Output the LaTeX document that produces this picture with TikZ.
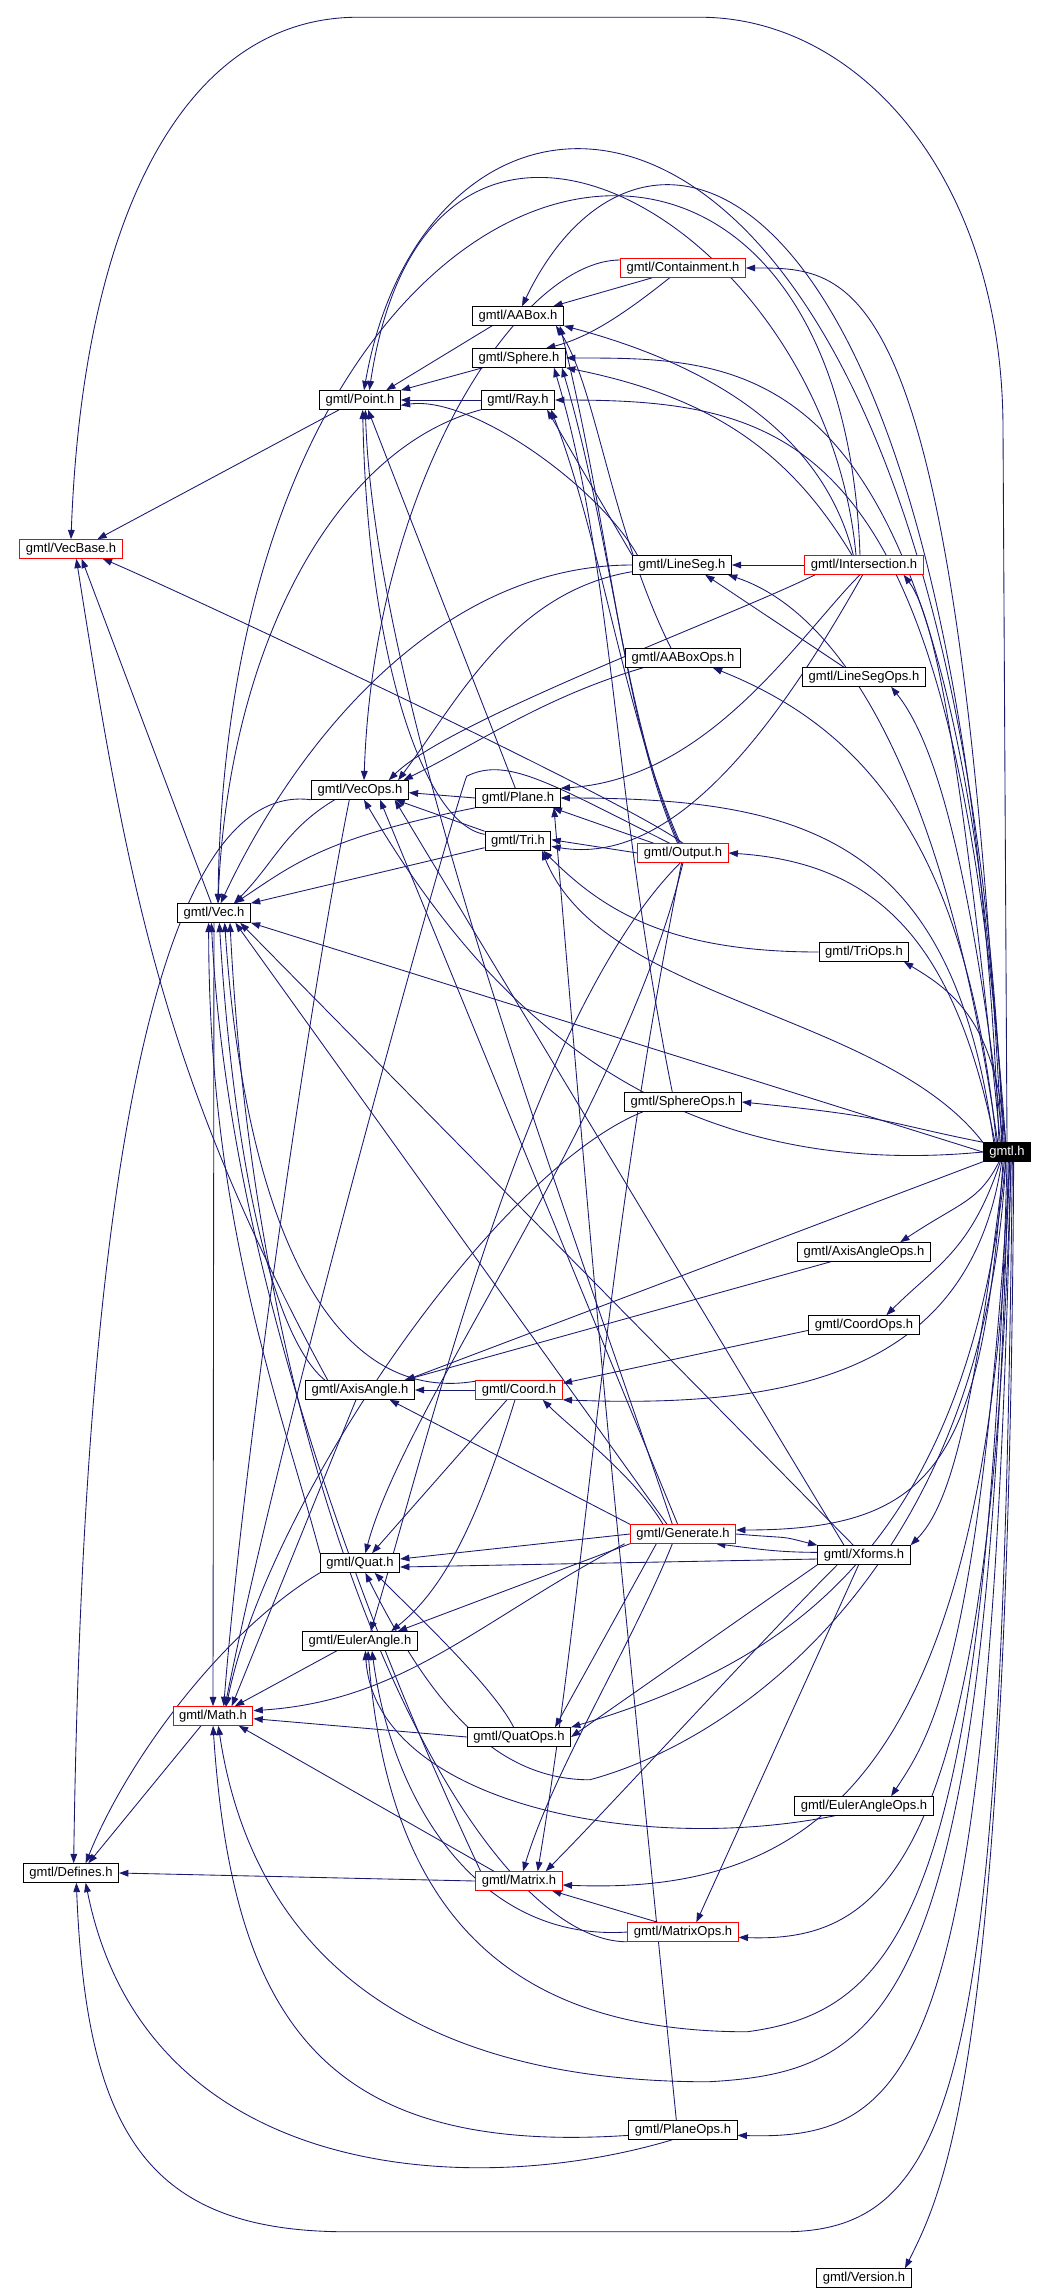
\documentclass[tikz,border=0pt]{standalone}
\usepackage{fontspec}
\setmainfont{Liberation Sans}
\usepackage{xcolor}
\usepackage{tikz}
\usetikzlibrary{arrows.meta,backgrounds}
\definecolor{depblue}{HTML}{191970}
\definecolor{truncred}{HTML}{FF0000}

\begin{document}
\begin{tikzpicture}[x=0.75pt,y=0.75pt,>={Triangle[length=7pt,width=5pt]}]
\tikzset{
file/.style={draw=black,line width=0.75pt,fill=white,font=\fontsize{9.75}{11}\selectfont,inner xsep=4.5pt,inner ysep=0pt,minimum height=13.9pt,text height=7.2pt,text depth=2pt},
trunc/.style={file,draw=truncred},
root/.style={file,fill=black,text=white},
dep/.style={->,color=depblue,line width=0.65pt}}
\useasboundingbox (0,0) rectangle (1046,-2294);

\node[trunc] (vecbase) at (71,-549) {gmtl/VecBase.h};
\node[file] (defines) at (71,-1873) {gmtl/Defines.h};
\node[file] (vec) at (214,-913) {gmtl/Vec.h};
\node[trunc] (math) at (213,-1716) {gmtl/Math.h};
\node[file] (point) at (360,-400) {gmtl/Point.h};
\node[file] (vecops) at (360,-790) {gmtl/VecOps.h};
\node[file] (axisangle) at (360,-1390) {gmtl/AxisAngle.h};
\node[file] (quat) at (360,-1563) {gmtl/Quat.h};
\node[file] (euler) at (360,-1641) {gmtl/EulerAngle.h};
\node[file] (aabox) at (518,-316) {gmtl/AABox.h};
\node[file] (sphere) at (519,-358) {gmtl/Sphere.h};
\node[file] (ray) at (518,-400) {gmtl/Ray.h};
\node[file] (plane) at (518,-798) {gmtl/Plane.h};
\node[file] (tri) at (518,-841) {gmtl/Tri.h};
\node[trunc] (coord) at (519,-1390) {gmtl/Coord.h};
\node[file] (quatops) at (519,-1737) {gmtl/QuatOps.h};
\node[trunc] (matrix) at (519,-1881) {gmtl/Matrix.h};
\node[trunc] (contain) at (683,-268) {gmtl/Containment.h};
\node[file] (lineseg) at (682,-565) {gmtl/LineSeg.h};
\node[file] (aaboxops) at (683,-658) {gmtl/AABoxOps.h};
\node[trunc] (output) at (683,-853) {gmtl/Output.h};
\node[file] (sphereops) at (683,-1102) {gmtl/SphereOps.h};
\node[trunc] (generate) at (683,-1534) {gmtl/Generate.h};
\node[trunc] (matrixops) at (683,-1932) {gmtl/MatrixOps.h};
\node[file] (planeops) at (683,-2130) {gmtl/PlaneOps.h};
\node[trunc] (isect) at (864,-565) {gmtl/Intersection.h};
\node[file] (linesegops) at (864,-677) {gmtl/LineSegOps.h};
\node[file] (triops) at (864,-952) {gmtl/TriOps.h};
\node[file] (axisangleops) at (864,-1252) {gmtl/AxisAngleOps.h};
\node[file] (coordops) at (864,-1325) {gmtl/CoordOps.h};
\node[file] (xforms) at (864,-1555) {gmtl/Xforms.h};
\node[file] (eulerops) at (864,-1806) {gmtl/EulerAngleOps.h};
\node[file] (version) at (864,-2278) {gmtl/Version.h};
\node[root] (gmtl) at (1007,-1152) {gmtl.h};

\begin{scope}[on background layer]
% gmtl.h pulls in every header; its edges run up and down the right margin
\draw[dep] (gmtl.north) -- ++(-4,713) .. controls +(0,250) and +(160,0) .. ++(-303,412) -- ++(-342,0) .. controls +(-170,0) and +(12,330) .. (vecbase.north);
\draw[dep] ([xshift=-3pt]gmtl.north) .. controls +(-45,1143) and +(70,400) .. ([xshift=3pt]point.north);
\draw[dep] ([xshift=-4pt]gmtl.north) .. controls +(-45,875) and +(110,0) .. (contain.east);
\draw[dep] ([xshift=-6pt]gmtl.north) .. controls +(-40,1000) and +(120,250) .. ([xshift=3pt]aabox.north);
\draw[dep] ([xshift=-2pt]gmtl.north) .. controls +(-45,785) and +(200,0) .. (sphere.east);
\draw[dep] ([xshift=-1pt]gmtl.north) .. controls +(-50,700) and +(250,0) .. (ray.east);
\draw[dep] ([xshift=-5pt]gmtl.north) .. controls +(-40,400) and +(30,-40) .. ([xshift=-15pt]isect.south east);
\draw[dep] ([xshift=-7pt]gmtl.north) .. controls +(-50,350) and +(120,-40) .. ([xshift=-3pt]lineseg.south east);
\draw[dep] ([xshift=-3pt]gmtl.north) .. controls +(-35,300) and +(40,-50) .. ([xshift=-26pt]linesegops.south east);
\draw[dep] ([xshift=-8pt]gmtl.north) .. controls +(-30,300) and +(150,-60) .. ([xshift=-21pt]aaboxops.south east);
\draw[dep] ([xshift=-9pt]gmtl.north) .. controls +(-40,200) and +(150,-10) .. (output.east);
\draw[dep] ([xshift=-10pt]gmtl.north) .. controls +(-40,300) and +(250,0) .. (plane.east);
\draw[dep] (gmtl.north west) .. controls +(-100,130) and +(60,-150) .. ([xshift=18pt]tri.south);
\draw[dep] (gmtl.west) -- (vec.south east);
\draw[dep] (gmtl.west) .. controls +(-333,-32) and +(113,-192) .. ([xshift=3pt]vecops.south);
\draw[dep] ([xshift=-1pt]gmtl.north) .. controls +(-10,120) and +(50,-30) .. ([xshift=-4pt]triops.south east);
\draw[dep] (gmtl.north west) .. controls +(-100,20) and +(150,-15) .. (sphereops.east);
\draw[dep] ([xshift=-6pt]gmtl.south) .. controls +(-20,-40) and +(60,40) .. ([xshift=-23pt]axisangleops.north east);
\draw[dep] ([xshift=-5pt]gmtl.south) .. controls +(-30,-90) and +(50,50) .. ([xshift=-25pt]coordops.north east);
\draw[dep] ([xshift=-4pt]gmtl.south) .. controls +(-30,-200) and +(250,-10) .. (coord.south east);
\draw[dep] ([xshift=-3pt]gmtl.south) .. controls +(-20,-300) and +(200,0) .. ([yshift=3pt]generate.east);
\draw[dep] ([xshift=-2pt]gmtl.south) .. controls +(-30,-250) and +(40,40) .. (xforms.north east);
\draw[dep] (gmtl.south west) -- ([xshift=-7pt]axisangle.north east);
\draw[dep] ([xshift=-1pt]gmtl.south) .. controls +(-20,-400) and +(150,40) .. ++(-416,-618) .. controls +(-100,0) and +(60,-120) .. ([xshift=4pt]quat.south);
\draw[dep] (gmtl.south) .. controls +(-20,-750) and +(150,20) .. ++(-260,-870) .. controls +(-250,0) and +(20,-250) .. ([xshift=6pt]euler.south);
\draw[dep] ([xshift=1pt]gmtl.south) .. controls +(-20,-850) and +(180,10) .. ++(-300,-920) .. controls +(-330,0) and +(30,-200) .. ([xshift=4pt]math.south);
\draw[dep] ([xshift=-1pt]gmtl.south) .. controls +(-40,-400) and +(200,60) .. (quatops.north east);
\draw[dep] ([xshift=2pt]gmtl.south) .. controls +(-30,-500) and +(40,60) .. ([xshift=-32pt]eulerops.north east);
\draw[dep] ([xshift=2pt]gmtl.south) .. controls +(-20,-620) and +(250,-10) .. ([yshift=-3pt]matrix.east);
\draw[dep] ([xshift=3pt]gmtl.south) .. controls +(-20,-700) and +(150,-5) .. ([yshift=-4pt]matrixops.east);
\draw[dep] ([xshift=3pt]gmtl.south) .. controls +(-20,-900) and +(180,-5) .. ([yshift=-4pt]planeops.east);
\draw[dep] ([xshift=4pt]gmtl.south) .. controls +(-10,-900) and +(180,0) .. ++(-229,-1070) -- ++(-436,0) .. controls +(-200,0) and +(10,-250) .. ([xshift=4pt]defines.south);
\draw[dep] ([xshift=5pt]gmtl.south) .. controls +(-5,-900) and +(40,80) .. ([xshift=-5pt]version.north east);

\draw[dep] ([xshift=15pt]point.south west) -- ([xshift=-19pt]vecbase.north east);
\draw[dep] (output.north) .. controls +(-60,45) and +(60,-25) .. ([xshift=-15pt]vecbase.south east);
\draw[dep] ([xshift=-2pt]vec.north) -- ([xshift=8pt]vecbase.south);
\draw[dep] ([xshift=17pt]axisangle.north west) .. controls +(-165,304) and +(52,-330) .. ([xshift=4pt]vecbase.south);
\draw[dep] ([xshift=15pt]aabox.south west) -- ([xshift=-11pt]point.north east);
\draw[dep] ([xshift=8pt]sphere.south west) -- (point.north east);
\draw[dep] (ray) -- (point);
\draw[dep] ([xshift=4pt]lineseg.north west) .. controls +(-40,70) and +(70,10) .. ([yshift=-4pt]point.east);
\draw[dep] ([xshift=-6pt]isect.north) .. controls +(-30,330) and +(60,400) .. ([xshift=7pt]point.north);
\draw[dep] ([xshift=-3pt]isect.north) .. controls +(-20,580) and +(10,800) .. ([xshift=3pt]vec.north);
\draw[dep] ([xshift=-8pt]isect.north) .. controls +(-30,120) and +(150,-40) .. (aabox.south east);
\draw[dep] ([xshift=-9pt]isect.north) .. controls +(-60,100) and +(150,-30) .. (sphere.south east);
\draw[dep] (isect) -- (lineseg);
\draw[dep] ([xshift=-3pt]isect.south) .. controls +(-60,-60) and +(150,10) .. (plane.north east);
\draw[dep] ([xshift=-1pt]isect.south) .. controls +(-90,-160) and +(120,-20) .. ([yshift=-4pt]tri.east);
\draw[dep] ([xshift=8pt]isect.south west) .. controls +(-80,-40) and +(60,60) .. ([xshift=-15pt]vecops.north east);
\draw[dep] (lineseg.north west) -- ([xshift=-6pt]ray.south east);
\draw[dep] (lineseg.west) .. controls +(-200,0) and +(70,150) .. ([xshift=5pt]vec.north);
\draw[dep] ([yshift=-5pt]lineseg.west) .. controls +(-120,-20) and +(60,80) .. ([xshift=-8pt]vecops.north east);
\draw[dep] ([xshift=-15pt]linesegops.north) -- ([xshift=-20pt]lineseg.south east);
\draw[dep] ([xshift=-9pt]aaboxops.north) .. controls +(-60,120) and +(40,-60) .. ([xshift=-6pt]aabox.south east);
\draw[dep] ([xshift=-30pt]aaboxops.south) .. controls +(-100,-30) and +(80,40) .. ([xshift=-4pt]vecops.north east);
\draw[dep] ([xshift=-4pt]output.north) .. controls +(-55,124) and +(50,-200) .. ([xshift=-3pt]aabox.south east);
\draw[dep] ([xshift=-3pt]output.north) .. controls +(-55,124) and +(50,-170) .. ([xshift=-3pt]sphere.south east);
\draw[dep] ([xshift=-2pt]output.north) .. controls +(-55,124) and +(50,-130) .. ([xshift=-3pt]ray.south east);
\draw[dep] ([xshift=-22pt]output.north) -- ([xshift=-6pt]plane.south east);
\draw[dep] (output.west) -- ([yshift=1pt]tri.east);
\draw[dep] ([xshift=-10pt]output.north) .. controls +(-120,60) and +(40,20) .. ++(-203,67) .. controls +(-15,-40) and +(60,300) .. ([xshift=9pt]math.north);
\draw[dep] (output.south) .. controls +(-60,-250) and +(40,150) .. ([xshift=4pt]quat.north);
\draw[dep] ([xshift=-2pt]output.south) .. controls +(-150,-150) and +(60,200) .. ([xshift=8pt]euler.north);
\draw[dep] ([xshift=-1pt]output.south) .. controls +(-80,-400) and +(50,300) .. ([xshift=14pt]matrix.north);
\draw[dep] ([xshift=-30pt]sphereops.south) .. controls +(-150,-60) and +(40,200) .. ([xshift=10pt]math.north);
\draw[dep] ([xshift=-8pt]sphereops.north) .. controls +(-60,300) and +(60,-200) .. ([xshift=-9pt]sphere.south east);
\draw[dep] (ray.south west) .. controls +(-150,-40) and +(10,250) .. ([xshift=3pt]vec.north);
\draw[dep] ([xshift=-2pt]plane.north) -- ([xshift=6pt]point.south);
\draw[dep] (plane.south west) .. controls +(-150,-30) and +(60,40) .. ([xshift=-12pt]vec.north east);
\draw[dep] (plane.west) -- ([yshift=-2pt]vecops.east);
\draw[dep] ([yshift=5pt]tri.west) .. controls +(-60,10) and +(5,-250) .. ([xshift=2pt]point.south);
\draw[dep] ([yshift=-5pt]tri.west) -- (vec.north east);
\draw[dep] (tri.north west) -- ([xshift=-10pt]vecops.south east);
\draw[dep] (triops.west) .. controls +(-150,0) and +(60,-60) .. ([xshift=-6pt]tri.south east);
\draw[dep] ([xshift=15pt]axisangle.north west) .. controls +(-50,40) and +(15,-250) .. ([xshift=4pt]vec.south);
\draw[dep] ([xshift=-3pt]axisangle.south) -- ([xshift=14pt]math.north);
\draw[dep] (coord) -- (axisangle);
\draw[dep] ([xshift=-9pt]coord.south) -- ([xshift=9pt]quat.north);
\draw[dep] ([xshift=-3pt]coord.south) .. controls +(-40,-130) and +(50,40) .. ([xshift=-20pt]euler.north east);
\draw[dep] ([xshift=4pt]coord.north west) .. controls +(-150,-30) and +(20,-300) .. ([xshift=8pt]vec.south);
\draw[dep] ([yshift=-4pt]coordops.west) -- ([yshift=5pt]coord.east);
\draw[dep] ([xshift=-25pt]axisangleops.south) -- ([xshift=-8pt]axisangle.north east);
\draw[dep] ([xshift=-15pt]generate.north) .. controls +(-30,50) and +(30,-30) .. ([xshift=-15pt]coord.south east);
\draw[dep] (generate.north west) -- ([xshift=-19pt]axisangle.south east);
\draw[dep] (generate.west) -- ([yshift=3pt]quat.east);
\draw[dep] (generate.south west) -- ([xshift=-15pt]euler.north east);
\draw[dep] ([xshift=-4pt]generate.south west) .. controls +(-150,-80) and +(150,10) .. ([yshift=4pt]math.east);
\draw[dep] ([xshift=-12pt]generate.north) -- ([xshift=16pt]vec.south);
\draw[dep] ([xshift=-4pt]generate.north) -- ([xshift=15pt]vecops.south);
\draw[dep] ([xshift=-8pt]generate.north) .. controls +(-100,300) and +(10,-300) .. ([xshift=4pt]point.south);
\draw[dep] ([xshift=-8pt]generate.south) .. controls +(-40,-100) and +(30,100) .. ([xshift=3pt]matrix.north);
\draw[dep] ([xshift=-20pt]generate.south) -- ([xshift=-12pt]quatops.north east);
\draw[dep] (generate.east) .. controls +(60,-5) and +(-40,10) .. (xforms.north west);
\draw[dep] ([yshift=2pt]xforms.west) .. controls +(-40,0) and +(40,-5) .. ([xshift=-15pt]generate.south east);
\draw[dep] ([yshift=-3pt]xforms.west) -- ([yshift=-3pt]quat.east);
\draw[dep] ([xshift=-8pt]xforms.north) -- ([xshift=-8pt]vec.south east);
\draw[dep] ([xshift=-15pt]xforms.north) -- ([xshift=26pt]vecops.south);
\draw[dep] ([xshift=-20pt]xforms.south) .. controls +(-80,-80) and +(60,60) .. ([xshift=20pt]matrix.north);
\draw[dep] (xforms.south west) -- (quatops.east);
\draw[dep] ([xshift=-4pt]xforms.south) -- ([xshift=10pt]matrixops.north);
\draw[dep] ([xshift=-30pt]quat.north) .. controls +(-40,150) and +(0,-300) .. ([xshift=-4pt]vec.south);
\draw[dep] (quat.south west) .. controls +(-100,-60) and +(40,100) .. ([xshift=11pt]defines.north);
\draw[dep] ([xshift=-4pt]quatops.north) .. controls +(-20,40) and +(40,-40) .. ([xshift=11pt]quat.south);
\draw[dep] (quatops.west) -- ([yshift=-2pt]math.east);
\draw[dep] ([xshift=26pt]euler.south west) -- ([xshift=-14pt]math.north east);
\draw[dep] ([xshift=-22pt]eulerops.south) .. controls +(-200,-40) and +(10,-150) .. ([xshift=4pt]euler.south);
\draw[dep] (matrixops.west) .. controls +(-150,-10) and +(20,-150) .. ([xshift=9pt]euler.south);
\draw[dep] ([xshift=-19pt]matrixops.north) -- ([xshift=-8pt]matrix.south east);
\draw[dep] (matrixops.south west) .. controls +(-150,0) and +(30,-600) .. ([xshift=12pt]vec.south);
\draw[dep] ([xshift=14pt]matrix.north west) -- ([xshift=-11pt]math.south east);
\draw[dep] (matrix.west) -- (defines.east);
\draw[dep] ([xshift=4pt]matrix.north west) .. controls +(-70,150) and +(20,-400) .. ([xshift=-2pt]vec.south);
\draw[dep] ([xshift=-5pt]planeops.north) .. controls +(-70,700) and +(50,-600) .. ([xshift=-5pt]plane.south east);
\draw[dep] ([yshift=-4pt]planeops.west) .. controls +(-300,-20) and +(20,-300) .. (math.south);
\draw[dep] ([xshift=-8pt]planeops.south) .. controls +(-200,-60) and +(60,-300) .. ([xshift=11pt]defines.south);
\draw[dep] ([xshift=-9pt]math.south) -- ([xshift=-23pt]defines.north east);
\draw[dep] ([xshift=-19pt]vecops.south) .. controls +(-50,-30) and +(40,40) .. ([xshift=15pt]vec.north);
\draw[dep] ([xshift=-8pt]vecops.south) .. controls +(-40,-200) and +(20,250) .. ([xshift=8pt]math.north);
\draw[dep] (vecops.south west) .. controls +(-150,20) and +(10,700) .. ([xshift=2pt]defines.north);
\draw[dep] (vec.south) -- (math.north);
\draw[dep] ([yshift=6pt]contain.west) .. controls +(-100,0) and +(10,300) .. ([xshift=3pt]vecops.north);
\draw[dep] ([xshift=-23pt]contain.south) -- ([xshift=-8pt]aabox.north east);
\draw[dep] ([xshift=-10pt]contain.south) .. controls +(-50,-40) and +(40,10) .. ([xshift=-15pt]sphere.north east);
\end{scope}
\end{tikzpicture}
\end{document}
